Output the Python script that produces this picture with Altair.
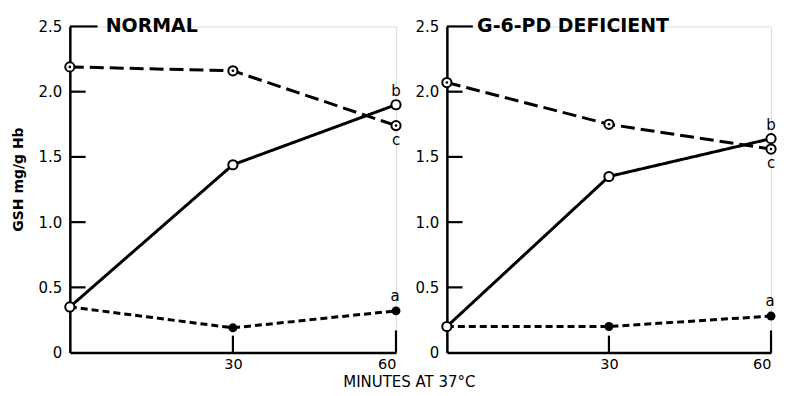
import altair as alt
import pandas as pd

minutes = [0, 30, 60]
normal_a = [0.35, 0.19, 0.32]
normal_b = [0.35, 1.44, 1.90]
normal_c = [2.19, 2.16, 1.74]
def_a = [0.20, 0.20, 0.28]
def_b = [0.20, 1.35, 1.64]
def_c = [2.07, 1.75, 1.56]

y_ticks = [0, 0.5, 1.0, 1.5, 2.0, 2.5]
x_ticks = [30, 60]
FONT = "DejaVu Sans"


def long_df(a, b, c):
    rows = []
    for s, vals in (("a", a), ("b", b), ("c", c)):
        for m, v in zip(minutes, vals):
            rows.append({"series": s, "minute": m, "value": v})
    return pd.DataFrame(rows)


def panel(a, b, c, title, show_ytitle, w, title_tick, title_x):
    df = long_df(a, b, c)
    x = alt.X("minute:Q", scale=alt.Scale(domain=[0, 60], nice=False, zero=True),
              axis=alt.Axis(values=x_ticks, ticks=False, grid=False, domainWidth=2.5,
                            domainColor="black", labelFontSize=14.5, labelColor="black",
                            labelPadding=5, labelFont=FONT, title=None))
    y = alt.Y("value:Q", scale=alt.Scale(domain=[0, 2.5], nice=False),
              axis=alt.Axis(values=y_ticks, ticks=False, grid=False, domainWidth=2.5,
                            domainColor="black", labelFontSize=15, labelColor="black",
                            labelFont=FONT, labelPadding=8,
                            labelExpr="datum.value == 0 ? '0' : format(datum.value, '.1f')",
                            title="GSH mg/g Hb" if show_ytitle else None,
                            titleFontSize=14, titleFont=FONT, titleFontWeight="bold",
                            titleColor="black", titlePadding=13,
                            titleAlign="center", titleY=153))
    base = alt.Chart(df)
    lines = base.mark_line(color="black", strokeWidth=3).encode(
        x=x, y=y,
        strokeDash=alt.StrokeDash("series:N", scale=alt.Scale(
            domain=["a", "b", "c"], range=[[7, 4], [1, 0], [14, 6]]), legend=None),
        detail="series:N",
    )
    pts_a = base.transform_filter("datum.series == 'a'").mark_point(
        shape="circle", filled=True, color="black", size=80, opacity=1).encode(x=x, y=y)
    pts_bc = base.transform_filter("datum.series != 'a'").mark_point(
        shape="circle", filled=True, fill="white", stroke="black", strokeWidth=2,
        size=85, opacity=1).encode(x=x, y=y)
    dots_c = base.transform_filter("datum.series == 'c'").mark_point(
        shape="circle", filled=True, color="black", size=7, opacity=1).encode(x=x, y=y)

    ytick_df = pd.DataFrame({"v": [0.5, 1.0, 1.5, 2.0, 2.5],
                             "x0": [0] * 5,
                             "x1": [2.9, 2.9, 2.9, 2.9, title_tick]})
    yticks = alt.Chart(ytick_df).mark_rule(color="black", strokeWidth=2.2).encode(
        x=alt.X("x0:Q"), x2="x1:Q", y=alt.Y("v:Q"))
    xtick_df = pd.DataFrame({"m": x_ticks, "y0": [0, 0], "y1": [0.13, 0.17]})
    xticks = alt.Chart(xtick_df).mark_rule(color="black", strokeWidth=2.2).encode(
        x=alt.X("m:Q"), y=alt.Y("y0:Q"), y2="y1:Q")

    tdf = pd.DataFrame({"x": [title_x], "y": [2.5], "t": [title]})
    ttl = alt.Chart(tdf).mark_text(align="left", baseline="middle", fontSize=19,
                                   fontWeight="bold", font=FONT, color="black").encode(
        x="x:Q", y="y:Q", text="t:N")

    end = df[df.minute == 60]
    lab_a = alt.Chart(end[end.series == "a"]).mark_text(
        fontSize=15, font=FONT, color="black", dy=-15, dx=-1).encode(x="minute:Q", y="value:Q", text="series:N")
    lab_b = alt.Chart(end[end.series == "b"]).mark_text(
        fontSize=15, font=FONT, color="black", dy=-14).encode(x="minute:Q", y="value:Q", text="series:N")
    lab_c = alt.Chart(end[end.series == "c"]).mark_text(
        fontSize=15, font=FONT, color="black", dy=14).encode(x="minute:Q", y="value:Q", text="series:N")

    return alt.layer(lines, yticks, xticks, pts_a, pts_bc, dots_c, ttl, lab_a, lab_b, lab_c).properties(
        width=w, height=327)


left = panel(normal_a, normal_b, normal_c, "NORMAL", True, 327, 5.1, 6.6)
right = panel(def_a, def_b, def_c, "G-6-PD DEFICIENT", False, 325, 4.8, 5.6)

chart = alt.hconcat(left, right, spacing=51, bounds="flush").properties(
    title=alt.TitleParams("MINUTES AT 37°C", orient="bottom", anchor="middle",
                          fontSize=15, fontWeight="normal", font=FONT, color="black",
                          dx=14, offset=3),
    padding={"left": 2, "top": 8, "right": 0, "bottom": 0},
).configure_view(stroke=None).configure(background="white")

chart.save("out.html", embed_options={"renderer": "svg", "actions": False})
